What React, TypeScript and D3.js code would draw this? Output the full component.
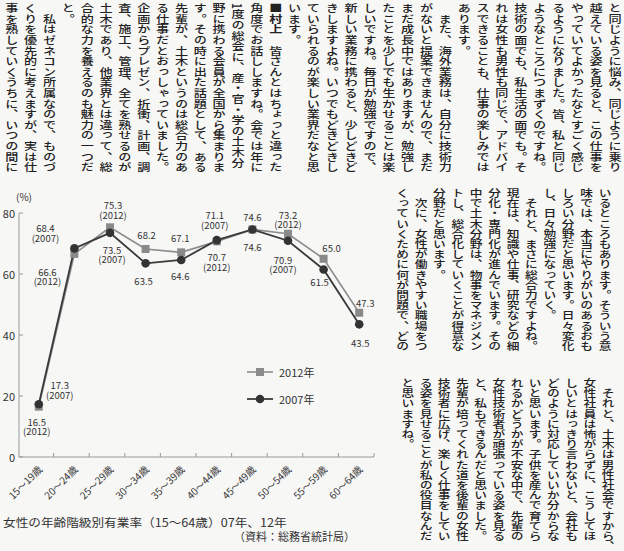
import React from 'react';
import * as d3 from 'd3';

// ---------- chart data ----------
const ageGroups = ['15～19歳', '20～24歳', '25～29歳', '30～34歳', '35～39歳', '40～44歳', '45～49歳', '50～54歳', '55～59歳', '60～64歳'];
const rate2012 = [16.5, 66.6, 75.3, 68.2, 67.1, 70.7, 74.6, 73.2, 65.0, 47.3];
const rate2007 = [17.3, 68.4, 73.5, 63.5, 64.6, 71.1, 74.6, 70.9, 61.5, 43.5];
const yTicks = [0, 20, 40, 60, 80];
const tag2012 = [true, true, true, false, false, true, false, true, false, false];
const tag2007 = [true, true, true, false, false, true, false, true, false, false];
const seriesNames = ['2012年', '2007年'];
const captionText = '女性の年齢階級別有業率（15～64歳）07年、12年';
const sourceText = '（資料：総務省統計局）';

// label layout (offsets from the point, px)
const off2012 = [[-2, 15], [-27, 18], [3, -22], [1, -14], [-1, -14], [0, 16], [0, -12], [0, -19], [8, -11], [6, -10]];
const off2007 = [[21, -19], [-29, -20], [2, 17], [-2, 18], [-1, 16], [-2, -25], [0, 18], [-5, 19], [-4, 13], [1, 19]];

// ---------- article text (vertical columns, right to left) ----------
const blockA = [
  'と同じように悩み、同じように乗り',
  '越えている姿を見ると、この仕事を',
  'やっていてよかったなとすごく感じ',
  'るようになりました。皆、私と同じ',
  'ようなところにつまずくのですね。',
  '技術の面でも、私生活の面でも。そ',
  'れは女性も男性も同じで、アドバイ',
  'スできることも、仕事の楽しみでは',
  'あります。',
  '　また、海外業務は、自分に技術力',
  'がないと提案できませんので、まだ',
  'まだ成長中ではありますが、勉強し',
  'たことを少しでも生かせることは楽',
  'しいですね。毎日が勉強ですので、',
  '新しい業務に携わると、少しどきど',
  'きしますよね。いつでもどきどきし',
  'ていられるのが楽しい業界だなと思',
  'います。',
  '■村上　皆さんとはちょっと違った',
  '角度でお話ししますね。会では年に',
  '1度の総会に、産・官・学の土木分',
  '野に携わる会員が全国から集まりま',
  'す。その時に出た話題として、ある',
  '先輩が、土木というのは総合力のあ',
  'る仕事だとおっしゃっていました。',
  '企画からプレゼン、折衝、計画、調',
  '査、施工、管理、全てを熟せるのが',
  '土木であり、他業界とは違って、総',
  '合的な力を養えるのも魅力の一つだ',
  'と。',
  '　私はゼネコン所属なので、ものづ',
  'くりを優先的に考えますが、実は仕',
  '事を熟していくうちに、いつの間に',
];
const blockB = [
  'いるところもあります。そういう意',
  '味では、本当にやりがいのあるおも',
  'しろい分野だと思います。日々変化',
  'し、日々勉強になっていく。',
  '　それと、まさに総合力ですよね。',
  '現在は、知識や仕事、研究などの細',
  '分化・専門化が進んでいます。その',
  '中で土木分野は、物事をマネジメン',
  'トし、総合化していくことが得意な',
  '分野だと思います。',
  '　次に、女性が働きやすい職場をつ',
  'くっていくために何が問題で、どの',
];
const blockC = [
  '　それと、土木は男性社会ですから、',
  '女性社員は怖がらずに、こうしてほ',
  'しいとはっきり言わないと、会社も',
  'どのように対応していいか分からな',
  'いと思います。子供を産んで育てら',
  'れるかどうかが不安な中で、先輩の',
  '女性技術者が頑張っている姿を見る',
  'と、私もできるんだと思いました。',
  '先輩が培ってくれた道を後輩の女性',
  '技術者に広げ、楽しく仕事をしてい',
  'る姿を見せることが私の役目なんだ',
  'と思いますね。',
];

const W = 624;
const H = 551;
const FONT = '"Noto Sans CJK JP", "Noto Sans", sans-serif';
const INK = '#222';
const PAPER = '#f7f7f6';

function VColumn({ x, y, text, size, spacing }: { x: number; y: number; text: string; size: number; spacing: number }) {
  const isMurakami = text.startsWith('■村上');
  return (
    <text
      transform={`translate(${x},${y}) scale(1.25,1)`}
      x={0}
      y={0}
      style={{ writingMode: 'vertical-rl' as any, letterSpacing: `${spacing}px` }}
      fontSize={size}
      fontFamily={FONT}
      fontWeight={500}
      fill={INK}
    >
      {isMurakami ? (
        <>
          <tspan fontWeight="bold">{'■村上'}</tspan>
          <tspan>{text.slice(3)}</tspan>
        </>
      ) : (
        text
      )}
    </text>
  );
}

function Block({ cols, x0, dx, y0, size, spacing }: { cols: string[]; x0: number; dx: number; y0: number; size: number; spacing: number }) {
  return (
    <g>
      {cols.map((c, i) => (
        <VColumn key={i} x={x0 - i * dx} y={y0} text={c} size={size} spacing={spacing} />
      ))}
    </g>
  );
}

export default function App() {
  const x = d3.scaleBand<string>().domain(ageGroups).range([18, 374]).padding(0);
  const y = d3.scaleLinear().domain([0, 80]).range([457, 213]);
  const px = (i: number) => (x(ageGroups[i]) as number) + x.bandwidth() / 2 + 3;
  const line = d3
    .line<number>()
    .x((_, i) => px(i))
    .y((v) => y(v));

  const boundaries = ageGroups.map((g) => x(g) as number).concat([x.range()[1]]);

  const labelFor = (vals: number[], tags: boolean[], offs: number[][], year: string, key: string) =>
    vals.map((v, i) => {
      const cx = px(i) + offs[i][0];
      const cy = y(v) + offs[i][1];
      return (
        <g key={key + i} fontSize={9.5} fill="#333" textAnchor="middle" fontFamily={FONT}>
          <text x={cx} y={cy} dominantBaseline="central">{v.toFixed(1)}</text>
          {tags[i] && (
            <text x={cx} y={cy + 9.5} dominantBaseline="central">{`(${year})`}</text>
          )}
        </g>
      );
    });

  return (
    <div style={{ position: 'fixed', left: 0, top: 0, width: W, height: H, background: PAPER }}>
      <svg width={W} height={H} viewBox={`0 0 ${W} ${H}`} style={{ display: 'block' }}>
        <rect width={W} height={H} fill={PAPER} />
        {/* article text */}
        <Block cols={blockA} x0={615} dx={18.85} y0={3} size={10.5} spacing={0.1} />
        <Block cols={blockB} x0={605} dx={18.4} y0={188} size={10.2} spacing={0} />
        <Block cols={blockC} x0={608} dx={18.2} y0={378} size={10.2} spacing={0} />

        {/* chart */}
        <g fontFamily={FONT}>
          <text x={24} y={196} fontSize={10} fill="#333" textAnchor="middle" dominantBaseline="central">(%)</text>
          {/* y axis */}
          <line x1={19} x2={19} y1={y(80)} y2={y(0)} stroke="#999" strokeWidth={1} />
          {yTicks.map((t) => (
            <g key={t}>
              <line x1={19} x2={23} y1={y(t)} y2={y(t)} stroke="#999" strokeWidth={1} />
              <text x={15} y={y(t)} fontSize={11} fill="#333" textAnchor="end" dominantBaseline="central">{t}</text>
            </g>
          ))}
          {/* x axis */}
          <line x1={19} x2={x.range()[1]} y1={y(0)} y2={y(0)} stroke="#999" strokeWidth={1} />
          {boundaries.slice(1).map((b, i) => (
            <line key={i} x1={b} x2={b} y1={y(0)} y2={y(0) - 4} stroke="#999" strokeWidth={1} />
          ))}
          {ageGroups.map((g, i) => (
            <text
              key={g}
              transform={`translate(${px(i) + 1},${467}) rotate(-45)`}
              fontSize={10}
              fill="#333"
              textAnchor="end"
              dominantBaseline="central"
            >
              {g}
            </text>
          ))}

          {/* series lines */}
          <path d={line(rate2012) as string} fill="none" stroke="#8c8c8c" strokeWidth={1.6} />
          <path d={line(rate2007) as string} fill="none" stroke="#3a3a3a" strokeWidth={1.8} />
          {rate2012.map((v, i) => (
            <rect key={'s' + i} x={px(i) - 4} y={y(v) - 4} width={8} height={8} fill="#8a8a8a" />
          ))}
          {rate2007.map((v, i) => (
            <circle key={'c' + i} cx={px(i)} cy={y(v)} r={4.3} fill="#333" />
          ))}

          {labelFor(rate2012, tag2012, off2012, '2012', 'a')}
          {labelFor(rate2007, tag2007, off2007, '2007', 'b')}

          {/* legend */}
          <g>
            <line x1={247} x2={273} y1={372} y2={372} stroke="#8c8c8c" strokeWidth={1.6} />
            <rect x={256} y={368} width={8} height={8} fill="#8a8a8a" />
            <text x={279} y={372} fontSize={11} fill="#333" dominantBaseline="central">{seriesNames[0]}</text>
            <line x1={247} x2={273} y1={399} y2={399} stroke="#3a3a3a" strokeWidth={1.8} />
            <circle cx={260} cy={399} r={4.3} fill="#333" />
            <text x={279} y={399} fontSize={11} fill="#333" dominantBaseline="central">{seriesNames[1]}</text>
          </g>

          {/* caption */}
          <text transform="translate(3,522) scale(1.1,1)" fontSize={11.5} fill="#333" dominantBaseline="central">{captionText}</text>
          <text x={234} y={536} fontSize={11} fill="#333" dominantBaseline="central">{sourceText}</text>
        </g>
      </svg>
    </div>
  );
}
